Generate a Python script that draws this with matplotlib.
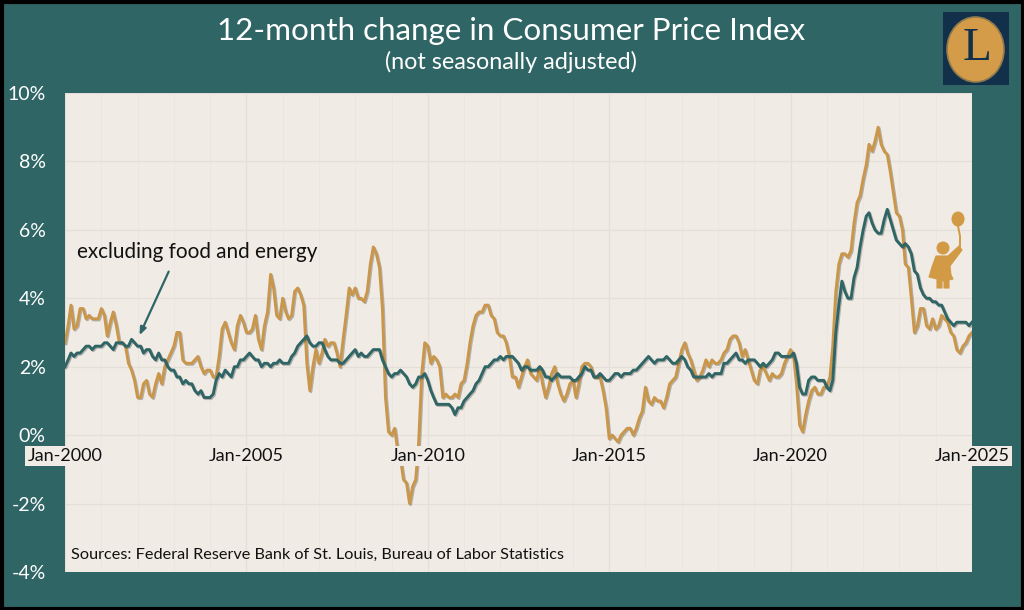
import numpy as np
import pandas as pd
import matplotlib
matplotlib.use("Agg")
import matplotlib.pyplot as plt
import matplotlib.patheffects as pe
from matplotlib.patches import Circle, Ellipse, Polygon, Rectangle

plt.rcParams["font.family"] = ["Lato", "DejaVu Sans"]

# 12-month change, Jan-2000 to Jan-2025, one row per year
cpi_all = [
    2.7, 3.2, 3.8, 3.1, 3.2, 3.7, 3.7, 3.4, 3.5, 3.4, 3.4, 3.4,
    3.7, 3.5, 2.9, 3.3, 3.6, 3.2, 2.7, 2.7, 2.6, 2.1, 1.9, 1.6,
    1.1, 1.1, 1.5, 1.6, 1.2, 1.1, 1.5, 1.8, 1.5, 2.0, 2.2, 2.4,
    2.6, 3.0, 3.0, 2.2, 2.1, 2.1, 2.1, 2.2, 2.3, 2.0, 1.8, 1.9,
    1.9, 1.7, 1.7, 2.3, 3.1, 3.3, 3.0, 2.7, 2.5, 3.2, 3.5, 3.3,
    3.0, 3.0, 3.1, 3.5, 2.8, 2.5, 3.2, 3.6, 4.7, 4.3, 3.5, 3.4,
    4.0, 3.6, 3.4, 3.5, 4.2, 4.3, 4.1, 3.8, 2.1, 1.3, 2.0, 2.5,
    2.1, 2.4, 2.8, 2.6, 2.7, 2.7, 2.4, 2.0, 2.8, 3.5, 4.3, 4.1,
    4.3, 4.0, 4.0, 3.9, 4.2, 5.0, 5.5, 5.3, 4.9, 3.7, 1.1, 0.1,
    0.0, 0.2, -0.4, -0.7, -1.3, -1.4, -2.0, -1.5, -1.3, -0.2, 1.8, 2.7,
    2.6, 2.1, 2.3, 2.2, 2.0, 1.1, 1.2, 1.1, 1.1, 1.2, 1.1, 1.5,
    1.6, 2.1, 2.7, 3.2, 3.5, 3.6, 3.6, 3.8, 3.8, 3.5, 3.4, 3.0,
    2.9, 2.9, 2.7, 2.3, 1.7, 1.7, 1.4, 1.7, 2.0, 2.2, 1.8, 1.7,
    1.6, 2.0, 1.5, 1.1, 1.4, 1.8, 2.0, 1.5, 1.2, 1.0, 1.2, 1.5,
    1.6, 1.1, 1.5, 2.0, 2.1, 2.1, 2.0, 1.7, 1.7, 1.7, 1.3, 0.8,
    -0.1, 0.0, -0.1, -0.2, 0.0, 0.1, 0.2, 0.2, 0.0, 0.2, 0.5, 0.7,
    1.4, 1.0, 0.9, 1.1, 1.0, 1.0, 0.8, 1.1, 1.5, 1.6, 1.7, 2.1,
    2.5, 2.7, 2.4, 2.2, 1.9, 1.6, 1.7, 1.9, 2.2, 2.0, 2.2, 2.1,
    2.1, 2.2, 2.4, 2.5, 2.8, 2.9, 2.9, 2.7, 2.3, 2.5, 2.2, 1.9,
    1.6, 1.5, 1.9, 2.0, 1.8, 1.6, 1.8, 1.7, 1.7, 1.8, 2.1, 2.3,
    2.5, 2.3, 1.5, 0.3, 0.1, 0.6, 1.0, 1.3, 1.4, 1.2, 1.2, 1.4,
    1.4, 1.7, 2.6, 4.2, 5.0, 5.3, 5.3, 5.2, 5.4, 6.2, 6.8, 7.0,
    7.5, 7.9, 8.5, 8.3, 8.6, 9.0, 8.5, 8.3, 8.2, 7.7, 7.1, 6.5,
    6.4, 6.0, 5.0, 4.9, 4.0, 3.0, 3.2, 3.7, 3.7, 3.2, 3.1, 3.4,
    3.1, 3.2, 3.5, 3.4, 3.3, 3.0, 2.9, 2.5, 2.4, 2.6, 2.7, 2.9,
    3.0,
]
cpi_core = [
    2.0, 2.2, 2.4, 2.3, 2.4, 2.4, 2.5, 2.6, 2.6, 2.5, 2.6, 2.6,
    2.6, 2.7, 2.7, 2.6, 2.5, 2.7, 2.7, 2.7, 2.6, 2.6, 2.8, 2.7,
    2.6, 2.6, 2.4, 2.5, 2.5, 2.3, 2.2, 2.4, 2.2, 2.2, 2.0, 1.9,
    1.9, 1.7, 1.7, 1.5, 1.6, 1.5, 1.5, 1.3, 1.2, 1.3, 1.1, 1.1,
    1.1, 1.2, 1.6, 1.8, 1.7, 1.9, 1.8, 1.7, 2.0, 2.0, 2.2, 2.2,
    2.3, 2.4, 2.3, 2.2, 2.2, 2.0, 2.1, 2.1, 2.0, 2.1, 2.1, 2.2,
    2.1, 2.1, 2.1, 2.3, 2.4, 2.6, 2.7, 2.8, 2.9, 2.7, 2.6, 2.6,
    2.7, 2.7, 2.5, 2.3, 2.2, 2.2, 2.2, 2.1, 2.1, 2.2, 2.3, 2.4,
    2.5, 2.3, 2.4, 2.3, 2.3, 2.4, 2.5, 2.5, 2.5, 2.2, 2.0, 1.8,
    1.7, 1.8, 1.8, 1.9, 1.8, 1.7, 1.5, 1.4, 1.5, 1.7, 1.7, 1.8,
    1.6, 1.3, 1.1, 0.9, 0.9, 0.9, 0.9, 0.9, 0.8, 0.6, 0.8, 0.8,
    1.0, 1.1, 1.2, 1.3, 1.5, 1.6, 1.8, 2.0, 2.0, 2.1, 2.2, 2.2,
    2.3, 2.2, 2.3, 2.3, 2.3, 2.2, 2.1, 1.9, 2.0, 2.0, 1.9, 1.9,
    1.9, 2.0, 1.9, 1.7, 1.7, 1.6, 1.7, 1.8, 1.7, 1.7, 1.7, 1.7,
    1.6, 1.6, 1.7, 1.8, 2.0, 1.9, 1.9, 1.7, 1.7, 1.8, 1.7, 1.6,
    1.6, 1.7, 1.8, 1.8, 1.7, 1.8, 1.8, 1.8, 1.9, 1.9, 2.0, 2.1,
    2.2, 2.3, 2.2, 2.1, 2.2, 2.2, 2.2, 2.3, 2.2, 2.1, 2.1, 2.2,
    2.3, 2.2, 2.0, 1.9, 1.7, 1.7, 1.7, 1.7, 1.7, 1.8, 1.7, 1.8,
    1.8, 1.8, 2.1, 2.1, 2.2, 2.3, 2.4, 2.2, 2.2, 2.1, 2.2, 2.2,
    2.2, 2.1, 2.0, 2.1, 2.0, 2.1, 2.2, 2.4, 2.4, 2.3, 2.3, 2.3,
    2.3, 2.4, 2.1, 1.4, 1.2, 1.2, 1.6, 1.7, 1.7, 1.6, 1.6, 1.6,
    1.4, 1.3, 1.6, 3.0, 3.8, 4.5, 4.2, 4.0, 4.0, 4.6, 4.9, 5.5,
    6.0, 6.4, 6.5, 6.2, 6.0, 5.9, 5.9, 6.3, 6.6, 6.3, 6.0, 5.7,
    5.6, 5.5, 5.6, 5.5, 5.3, 4.8, 4.7, 4.3, 4.1, 4.0, 4.0, 3.9,
    3.9, 3.8, 3.8, 3.6, 3.4, 3.3, 3.2, 3.3, 3.3, 3.3, 3.3, 3.2,
    3.3,
]
year_ticks = ["2000-01-01", "2005-01-01", "2010-01-01", "2015-01-01", "2020-01-01", "2025-01-01"]
year_labels = ["Jan-2000", "Jan-2005", "Jan-2010", "Jan-2015", "Jan-2020", "Jan-2025"]
pct_ticks = [-4, -2, 0, 2, 4, 6, 8, 10]

TEAL = "#2f6665"
GOLD = "#c9964a"
ICON = "#d29a45"
CREAM = "#f0ebe5"
NAVY = "#12304a"
W, H = 1024, 610

months = pd.date_range("2000-01-01", periods=len(cpi_all), freq="MS")
ticks = pd.to_datetime(year_ticks)

fig = plt.figure(figsize=(W / 100, H / 100), dpi=100, facecolor=TEAL)
ax = fig.add_axes([65 / W, 1 - 572 / H, (972 - 65) / W, (572 - 93) / H])
ax.set_facecolor(CREAM)
for s in ax.spines.values():
    s.set_visible(False)

ax.set_xlim(ticks[0], ticks[-1])
ax.set_ylim(-4, 10)
ax.set_yticks(pct_ticks)
ax.set_yticklabels([f"{v}%" for v in pct_ticks], color="white", fontsize=14)
ax.tick_params(axis="y", length=0, pad=14)
ax.set_xticks(ticks)
ax.set_xticks(pd.date_range("2000-01-01", "2025-01-01", freq="YS"), minor=True)
ax.tick_params(axis="x", which="both", length=0, labelbottom=False)
ax.grid(True, which="major", color="#e4dfd9", linewidth=0.9)
ax.grid(True, which="minor", axis="x", color="#ebe6e0", linewidth=0.7)
ax.set_axisbelow(True)

shadow = [pe.SimpleLineShadow(offset=(0.8, -0.8), alpha=0.25), pe.Normal()]
ax.plot(months, cpi_all, color=GOLD, linewidth=2.1, solid_joinstyle="round", path_effects=shadow, zorder=3)
ax.plot(months, cpi_core, color=TEAL, linewidth=2.1, solid_joinstyle="round", path_effects=shadow, zorder=4)

# year labels sit just under the 0% line, on top of the lines
for t, lab in zip(ticks, year_labels):
    ax.annotate(lab, (t, 0), xytext=(0, -15), textcoords="offset points", ha="center", va="center",
                fontsize=13, color="#111111", zorder=6, annotation_clip=False,
                bbox=dict(boxstyle="square,pad=0.12", fc=CREAM, ec="none"))

ax.text(pd.Timestamp("2000-05-01"), 5.35, "excluding food and energy", fontsize=14.9, color="#111111",
        va="center", ha="left")
ax.annotate("", xy=(pd.Timestamp("2002-01-20"), 2.92), xytext=(pd.Timestamp("2002-11-10"), 4.78),
            arrowprops=dict(arrowstyle="-|>,head_width=0.18,head_length=0.45", color=TEAL, lw=1.6,
                            shrinkA=0, shrinkB=0))
ax.text(pd.Timestamp("2000-03-01"), -3.5, "Sources: Federal Reserve Bank of St. Louis, Bureau of Labor Statistics",
        fontsize=11.7, color="#111111", va="center", ha="left")

fig.text(511 / W, 1 - 31 / H, "12-month change in Consumer Price Index", color="white", fontsize=22.6,
         ha="center", va="center")
fig.text(511 / W, 1 - 62 / H, "(not seasonally adjusted)", color="white", fontsize=16.8,
         ha="center", va="center")

# overlay in picture pixels for the logo, the child icon and the frame
over = fig.add_axes([0, 0, 1, 1], facecolor="none", zorder=10)
over.set_xlim(0, W)
over.set_ylim(H, 0)
over.axis("off")

over.add_patch(Rectangle((943, 12), 66, 73, fc=NAVY, ec="none"))
over.add_patch(Ellipse((975.5, 49.5), 57, 65, fc="#d49c48", ec="#8f7a4e", lw=1.2))
over.text(977, 49, "L", family="Liberation Serif", fontsize=34, color=NAVY, ha="center", va="center")

over.add_patch(Ellipse((958, 219), 13, 15, fc=ICON, ec="none"))
over.plot([958, 960, 960], [226, 236, 247], color=ICON, linewidth=1.4)
over.add_patch(Circle((943, 248), 6.5, fc=ICON, ec="none"))
over.add_patch(Polygon([(936, 256), (948, 256), (959, 246), (962, 250), (950, 266), (951, 275),
                        (953, 279), (949, 280), (949, 288), (944, 288), (944, 281), (942, 281),
                        (942, 288), (937, 288), (937, 279), (929, 277), (932, 267)],
                       closed=True, fc=ICON, ec=ICON, lw=0.8, joinstyle="round"))

over.add_patch(Rectangle((1.5, 1.5), W - 3, H - 3, fc="none", ec="black", lw=3))

fig.savefig("out.png", dpi=100, facecolor=TEAL)
